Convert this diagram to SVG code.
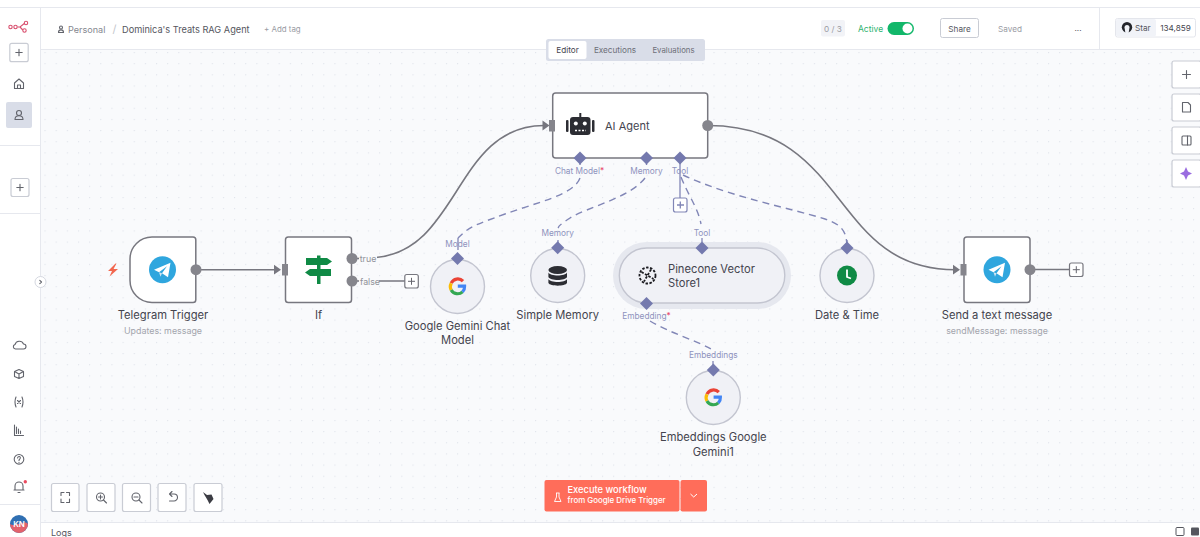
<svg xmlns="http://www.w3.org/2000/svg" width="1200" height="537" viewBox="0 0 1200 537">
<style>
text{font-family:Inter,"Liberation Sans",sans-serif}
.lbl{font-size:11.2px;fill:#44444e;text-anchor:middle}
.sub{font-size:8.9px;fill:#a3a5ad;text-anchor:middle}
.port{font-size:8.3px;fill:#8e92bd;text-anchor:middle}
.hdr{font-size:8.2px;fill:#6d6f78}
.nd{fill:#fff;stroke:#77777f;stroke-width:1.5}
.cir{fill:#f0f1f6;stroke:#c3c5d0;stroke-width:1.4}
.btn{fill:#fff;stroke:#c9ccd4;stroke-width:1.2}
.ic{fill:none;stroke:#62646c;stroke-width:1.1;stroke-linecap:round;stroke-linejoin:round}
.wire{fill:none;stroke:#77777f;stroke-width:1.6}
.dash{fill:none;stroke:#8186b6;stroke-width:1.4;stroke-dasharray:7 5}
.stem{fill:none;stroke:#8186b6;stroke-width:1.3}
.out{fill:#85858c}
.add{fill:#fff;stroke:#77777f;stroke-width:1.2}
.addp{fill:none;stroke:#66666e;stroke-width:1}
</style>
<defs>
<pattern id="dots" x="44.5" y="52" width="11.15" height="11.15" patternUnits="userSpaceOnUse"><rect width="1.1" height="1.1" fill="#dfe2ea"/></pattern>
<path id="dia" d="M0-6.5 6.500 0 0 6.500-6.500 0Z" fill="#7479ae"/>
<g id="tg"><circle r="13.500" fill="#2fa6de"/><path d="M-8.500 0 8-7 5.500 7.500-.5 3.500 4.500-3.500-3.500 2.500Z" fill="#fff"/><path d="M-3.500 2.500-2 7-.5 3.500Z" fill="#cfe3f1"/></g>
<g id="goog" fill="none" stroke-width="3.200">
<path d="M5.500-5.300A7.200 7.200 0 0 0-6.300-3.300" stroke="#ea4335"/>
<path d="M-6.300-3.300A7.200 7.200 0 0 0-6.300 3.400" stroke="#fbbc05"/>
<path d="M-6.300 3.400A7.200 7.200 0 0 0 5 5.300" stroke="#34a853"/>
<path d="M5 5.300A7.200 7.200 0 0 0 7.100-.3H.3" stroke="#4285f4"/>
</g>
</defs>

<rect width="1200" height="537" fill="#fff"/>
<rect x="41" y="50" width="1159" height="472" fill="#f9fafc"/>
<rect x="41" y="50" width="1159" height="472" fill="url(#dots)"/>
<path d="M0 7.500H1200M41 49.500H1200M40.500 7V537M0 145.500H40M0 213.500H40M0 504.500H40M41 522.500H1200M1099.500 8V49" fill="none" stroke="#e6e8ee" stroke-width="1"/>

<g id="sidebar">
<g fill="none" stroke="#d9506f" stroke-width="1.100"><circle cx="10.500" cy="27" r="1.700"/><circle cx="15.500" cy="27" r="1.700"/><circle cx="26" cy="23" r="1.700"/><circle cx="24.500" cy="30.500" r="1.700"/><path d="M17.500 27H20L24.300 23.500M20 27 22.800 30"/></g>
<rect class="btn" x="9.800" y="43.300" width="18.400" height="18.400" rx="2"/><path class="ic" d="M15.800 52.500H22.200M19 49.300V55.700"/>
<path class="ic" d="M14.500 83 19 79 23.500 83V88.500H14.500ZM17.500 88.500V85H20.500V88.500"/>
<rect x="6" y="102" width="26" height="26" rx="2" fill="#d9dde8"/>
<circle class="ic" cx="19" cy="113" r="2.500"/><path class="ic" d="M15 119.500C15 114.500 23 114.500 23 119.500Z"/>
<rect class="btn" x="11" y="178.500" width="18" height="18" rx="2"/><path class="ic" d="M16.800 187.500H23.200M20 184.300V190.700"/>
<path class="ic" d="M15.500 349H23.500A2.500 2.500 0 0 0 23.500 344 4.500 4.500 0 0 0 15 344.500 2.300 2.300 0 0 0 15.500 349Z"/>
<path class="ic" d="M14.500 371.500 19 369.500 23.500 371.500V376.500L19 378.500 14.500 376.500ZM14.500 371.500 19 374 23.500 371.500M19 374V378.500"/>
<path class="ic" d="M16 397Q14 402 16 407M22 397Q24 402 22 407M17.500 400.500 20.500 403.500M20.500 400.500 17.500 403.500"/>
<path class="ic" d="M14.500 425V435.500H23.500M16.500 427V433.500M18.500 429V433.500M20.500 431V433.500"/>
<circle class="ic" cx="19" cy="459.300" r="4.800"/><path class="ic" d="M17.600 458C17.800 455.800 20.800 456.200 20.300 458.200 20 459.200 19 459.300 19 460.500M19 462.300V462.400"/>
<path class="ic" d="M15 490V486A4 4 0 0 1 23 486V490ZM14 490H24M18 492.500H20"/><circle cx="25.300" cy="481.800" r="1.700" fill="#ea4b5f"/>
<circle cx="19" cy="524" r="9" fill="#2f6fb2"/><path d="M10 524A9 9 0 0 0 28 524C24 519 15 528 10 524Z" fill="#e2626c"/>
<text x="19" y="527" font-size="8" font-weight="600" fill="#fff" text-anchor="middle">KN</text>
<circle cx="40.500" cy="282" r="5.500" fill="#fff" stroke="#d5d8e0"/><path class="ic" d="M39.800 280.300 41.500 282 39.800 283.700" stroke-width=".8"/>
</g>

<g id="header">
<circle class="ic" cx="61" cy="27.500" r="1.500" stroke-width=".8"/><path class="ic" d="M58.500 32.500C58.500 29 63.500 29 63.500 32.500Z" stroke-width=".8"/>
<text x="68" y="33" font-size="9.100" fill="#85878f">Personal</text>
<text x="112.500" y="33" font-size="11" fill="#c4c6cc">/</text>
<text x="122" y="33" font-size="9.200" fill="#55565e">Dominica's Treats RAG Agent</text>
<text x="264" y="32" font-size="7.900" fill="#9a9ca4">+ Add tag</text>
<rect x="821" y="20" width="24" height="16.500" rx="2" fill="#f2f3f7"/>
<text x="833" y="31.500" class="hdr" text-anchor="middle" style="fill:#9a9ca4">0 / 3</text>
<text x="858" y="32" font-size="8.500" fill="#2fb36f">Active</text>
<rect x="887.500" y="22" width="26.500" height="13" rx="6.500" fill="#12b76a"/><circle cx="907.500" cy="28.500" r="5" fill="#fff"/>
<rect x="940.500" y="18.500" width="38" height="19" rx="2" fill="#fff" stroke="#c9ccd4"/>
<text x="959.500" y="31.500" class="hdr" text-anchor="middle" style="fill:#55565e">Share</text>
<text x="998" y="31.500" class="hdr" style="fill:#9a9ca4">Saved</text>
<text x="1078" y="31" class="hdr" text-anchor="middle" style="fill:#55565e">...</text>
<rect x="1115.500" y="18.500" width="80" height="18.500" rx="2" fill="#fff" stroke="#e4e6ec"/>
<rect x="1116" y="19" width="40" height="17.500" rx="2" fill="#f1f3f8"/>
<circle cx="1127" cy="27.300" r="5.200" fill="#24262c"/><path d="M1124.500 27.500A2.500 2.500 0 0 1 1129.500 27.500L1128.500 33.500H1125.500Z" fill="#f1f3f8"/>
<text x="1135" y="31" font-size="8.200" fill="#55565e">Star</text>
<text x="1175.500" y="31" class="hdr" text-anchor="middle" style="fill:#44444e">134,859</text>
<rect x="546" y="39" width="159" height="22" rx="2.500" fill="#d9dde8"/>
<rect x="548.500" y="41" width="38" height="18" rx="2" fill="#fff"/>
<text x="567.500" y="53" class="hdr" text-anchor="middle" style="fill:#44444e">Editor</text>
<text x="615" y="53" class="hdr" text-anchor="middle">Executions</text>
<text x="673.500" y="53" class="hdr" text-anchor="middle" style="font-size:7.800px">Evaluations</text>
</g>

<g id="connectors">
<path class="wire" d="M196 269.700H276"/><path d="M274 264.800 281 269.700 274 274.600Z" fill="#77777f"/>
<path class="wire" d="M376 257.500C460 250 455 125.500 544 125.500"/><path d="M542.500 120.600 549.500 125.500 542.500 130.400Z" fill="#77777f"/>
<path class="wire" d="M708 125.500C850 125.500 830 269.700 955 269.700"/><path d="M953 264.800 960 269.700 953 274.600Z" fill="#77777f"/>
<path class="wire" d="M352 281H405M1030 269.500H1069.500"/>
<path class="wire" d="M352 258.500H360"/>
<rect x="359" y="253" width="18" height="11" fill="#f9fafc"/><rect x="359" y="276" width="20" height="11" fill="#f9fafc"/>
<path class="dash" d="M580 178C574 195 535 203 505 214S470 226 458 238"/>
<path class="dash" d="M645 178C630 198 585 208 570 218S560 226 558 228"/>
<path class="dash" d="M681 177C688 195 698 208 701 224"/>
<path class="dash" d="M683 175C730 197 790 208 825 219 843 225 846 232 847 245"/>
<path class="dash" d="M650 321C670 333 695 340 711 349"/>
<path class="stem" d="M680 160V198" stroke-width="1.600"/>
<path class="stem" d="M580 160V165M646.500 160V165M458 250V238M558 240V247M702 238V247M847 240V247M646.500 305V309M713 361V369"/>
<rect x="673.500" y="198" width="13.500" height="14" rx="2" fill="#fff" stroke="#8186b6" stroke-width="1.200"/><path class="stem" d="M677 205H684M680.300 201.500V208.500"/>
</g>

<g id="n-trigger">
<path class="nd" d="M152 237H193A2.800 2.800 0 0 1 195.800 239.800V299.700A2.800 2.800 0 0 1 193 302.500H152A22 22 0 0 1 130 280.500V259A22 22 0 0 1 152 237Z"/>
<path d="M115.500 263.500 108 271H112L109.500 276.500 118 269H113.500L116.500 263.500Z" fill="#f2674f"/>
<use href="#tg" x="162.500" y="269.700"/><circle class="out" cx="196" cy="269.700" r="5.500"/>
<text class="lbl" x="163" y="319">Telegram Trigger</text><text class="sub" x="163" y="334">Updates: message</text>
</g>
<g id="n-if">
<rect class="nd" x="285.500" y="237" width="66" height="65.500" rx="2.800"/><rect x="282" y="264" width="6" height="11.500" fill="#85858c"/>
<path d="M306 258H327L332 261.500 327 265H306ZM331 269H310L305 272.500 310 276H331Z" fill="#0f8a45"/><path d="M317 255.500H320.500V258H317ZM317 265H320.500V269H317ZM317 276H320.500V284H317Z" fill="#0f8a45"/>
<circle class="out" cx="352" cy="258.500" r="5.500"/><circle class="out" cx="352" cy="281" r="5.500"/>
<text x="368" y="262" font-size="8.800" fill="#909299" text-anchor="middle">true</text><text x="370" y="284.500" font-size="8.800" fill="#909299" text-anchor="middle">false</text>
<rect class="add" x="404.800" y="274.500" width="13.500" height="13.500" rx="2"/><path class="addp" d="M408 281.300H415M411.500 277.800V284.800"/>
<text class="lbl" x="318.500" y="319">If</text>
</g>
<g id="n-gemini">
<circle class="cir" cx="457.500" cy="286.500" r="27"/><use href="#goog" x="457.500" y="286.500"/><use href="#dia" x="457.500" y="258.500"/>
<text class="port" x="457.500" y="247">Model</text>
<text class="lbl" x="457.500" y="329.500">Google Gemini Chat</text><text class="lbl" x="457.500" y="344">Model</text>
</g>
<g id="n-memory">
<circle class="cir" cx="557.700" cy="275.500" r="27"/>
<g fill="#2c2d33"><ellipse cx="557.700" cy="270" rx="9.300" ry="4"/><path d="M548.400 272.500C550 276.500 565.500 276.500 567 272.500V277C565.500 281 550 281 548.400 277ZM548.400 279C550 283 565.500 283 567 279V283C565.500 286.500 550 286.500 548.400 283Z"/></g>
<use href="#dia" x="557.700" y="247.800"/><text class="port" x="557.700" y="235.500">Memory</text>
<text class="lbl" x="557.700" y="319">Simple Memory</text>
</g>
<g id="n-pinecone">
<rect x="613" y="242" width="178" height="67" rx="33.500" fill="#e6e8ef"/>
<rect class="cir" x="619.300" y="248" width="165.500" height="55" rx="27.500"/>
<g fill="none" stroke="#1b1b20" stroke-width="1.800" stroke-dasharray="2.500 1.500"><circle cx="647.500" cy="275.500" r="8"/><path d="M641.500 272 653.500 279M651 269.500 644 281.500"/></g>
<text class="lbl" x="668" y="273" style="text-anchor:start">Pinecone Vector</text><text class="lbl" x="668" y="287" style="text-anchor:start">Store1</text>
<use href="#dia" x="702" y="248"/><use href="#dia" x="646.500" y="303.500"/>
<text class="port" x="702" y="235.500">Tool</text>
<text class="port" x="646.500" y="319">Embedding<tspan fill="#e8476a">*</tspan></text>
</g>
<g id="n-date">
<circle class="cir" cx="847" cy="275.500" r="27"/><circle cx="847" cy="275.500" r="10" fill="#0f8a45"/><path d="M847 269.500V277L851 278.500" fill="none" stroke="#fff" stroke-width="1.800"/>
<use href="#dia" x="847" y="248"/><text class="lbl" x="847" y="319">Date &amp; Time</text>
</g>
<g id="n-embed">
<circle class="cir" cx="713.300" cy="397.500" r="27"/><use href="#goog" x="713.300" y="397.500"/><use href="#dia" x="713.300" y="370"/>
<text class="port" x="713.300" y="358">Embeddings</text>
<text class="lbl" x="713.300" y="441">Embeddings Google</text><text class="lbl" x="713.300" y="455.500">Gemini1</text>
</g>
<g id="n-agent">
<rect class="nd" x="552.700" y="93" width="155" height="65" rx="3"/>
<rect x="549" y="120" width="6" height="11.500" fill="#85858c"/>
<g fill="#2c2d33"><rect x="570" y="117" width="20.500" height="18" rx="3"/><rect x="566" y="120" width="2.500" height="12" rx="1"/><rect x="592" y="120" width="2.500" height="12" rx="1"/><rect x="579.300" y="113" width="2" height="4"/></g>
<circle cx="575.800" cy="123.500" r="2" fill="#fff"/><circle cx="584.800" cy="123.500" r="2" fill="#fff"/><path d="M575 130.500H586" stroke="#fff" stroke-width="1.300" stroke-dasharray="2 1.500"/>
<text x="605" y="130" font-size="11" fill="#44444e">AI Agent</text>
<circle class="out" cx="707.700" cy="125.500" r="5.500"/>
<use href="#dia" x="580" y="158"/><use href="#dia" x="646.500" y="158"/><use href="#dia" x="680" y="158"/>
<text class="port" x="579.500" y="174">Chat Model<tspan fill="#e8476a">*</tspan></text><text class="port" x="646.500" y="174">Memory</text><text class="port" x="680" y="174">Tool</text>
</g>
<g id="n-send">
<rect class="nd" x="964" y="237" width="66" height="65.500" rx="2.800"/><rect x="960.500" y="264" width="6" height="11.500" fill="#85858c"/>
<use href="#tg" x="997" y="269.700"/><circle class="out" cx="1030" cy="269.700" r="5.500"/>
<rect class="add" x="1069.500" y="263" width="13.500" height="13.500" rx="2"/><path class="addp" d="M1072.800 269.700H1079.800M1076.300 266.200V273.200"/>
<text class="lbl" x="997" y="319">Send a text message</text><text class="sub" x="997" y="334">sendMessage: message</text>
</g>

<g id="toolbar-right">
<rect class="btn" x="1172" y="61" width="29" height="27" rx="2"/><path class="ic" d="M1182.500 74.500H1190.500M1186.500 70.500V78.500"/>
<rect class="btn" x="1172" y="94" width="29" height="27" rx="2"/><path class="ic" d="M1182.500 102.500H1188L1190.500 105V112H1182.500Z"/>
<rect class="btn" x="1172" y="127" width="29" height="27" rx="2"/><rect class="ic" x="1182" y="136" width="9" height="9" rx="1"/><path class="ic" d="M1187.500 136V145"/>
<rect class="btn" x="1172" y="160" width="29" height="27" rx="2"/><path d="M1186 167 1188 171.500 1192 173.500 1188 175.500 1186 180 1184 175.500 1180 173.500 1184 171.500Z" fill="#9a6ce0"/>
</g>
<g id="toolbar-left">
<rect class="btn" x="51.500" y="483.500" width="27.500" height="28" rx="2"/><path class="ic" d="M61 495.500V492.500H64M66.500 492.500H69.500V495.500M61 499V502.500H64M66.500 502.500H69.500V499"/>
<rect class="btn" x="87" y="483.500" width="28" height="28" rx="2"/><circle class="ic" cx="100.500" cy="497" r="4"/><path class="ic" d="M103.500 500 106.500 503M98.500 497H102.500M100.500 495V499"/>
<rect class="btn" x="122.500" y="483.500" width="28" height="28" rx="2"/><circle class="ic" cx="136" cy="497" r="4"/><path class="ic" d="M139 500 142 503M134 497H138"/>
<rect class="btn" x="158" y="483.500" width="28" height="28" rx="2"/><path class="ic" d="M170 494H174A3.500 3.500 0 0 1 174 501H169.500M172 491.500 169.500 494 172 496.500"/>
<rect class="btn" x="194" y="483.500" width="28" height="28" rx="2"/><path d="M203 492 207 495 211.500 494.500 213.500 499 209.500 504 207.500 500 204.500 495Z" fill="#3c3d44"/>
</g>
<g id="execute">
<rect x="544.500" y="480" width="135" height="31.500" rx="2" fill="#ff6d5a"/><rect x="680.500" y="480" width="26.500" height="31.500" rx="2" fill="#ff6d5a"/>
<path d="M556 493H559.500M556.500 493V497L554.500 501.500H561L559 497V493" fill="none" stroke="#fff" stroke-width=".9"/>
<text x="567.500" y="493" font-size="9.300" font-weight="500" fill="#fff">Execute workflow</text>
<text x="567.500" y="503" font-size="7.900" font-weight="500" fill="#fff">from Google Drive Trigger</text>
<path d="M690.500 494 693.700 497 697 494" fill="none" stroke="#fff" stroke-width="1"/>
</g>
<g id="logs">
<text x="51" y="536" font-size="9" fill="#55565e">Logs</text>
<rect x="1176" y="527.500" width="8" height="8" rx="1" fill="none" stroke="#55565e"/><rect x="1191" y="527.500" width="8" height="8" rx="1" fill="#55565e"/>
</g>
</svg>
